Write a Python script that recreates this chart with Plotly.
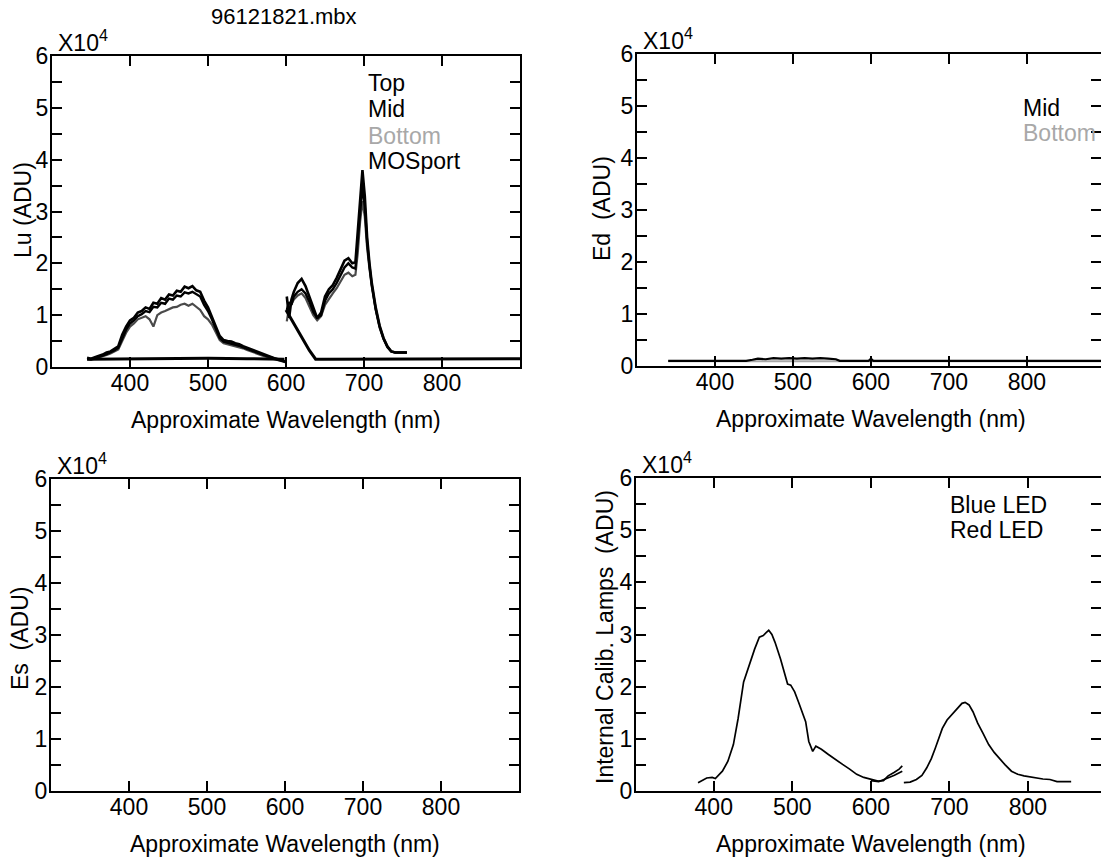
import plotly.graph_objects as go

# ---------------- data (values in units of 10^4 ADU) ----------------
WL_VIS = list(range(345, 601, 5))
lu_top_vis = [0.18, 0.16, 0.19, 0.21, 0.24, 0.28, 0.30, 0.35, 0.40, 0.62,
              0.78, 0.90, 0.95, 1.05, 1.08, 1.15, 1.12, 1.24, 1.22, 1.33,
              1.30, 1.40, 1.38, 1.47, 1.45, 1.55, 1.52, 1.56, 1.48, 1.45,
              1.28, 1.15, 0.98, 0.78, 0.60, 0.52, 0.50, 0.49, 0.46, 0.44,
              0.40, 0.37, 0.34, 0.31, 0.28, 0.25, 0.22, 0.20, 0.17, 0.15,
              0.12, 0.10]
lu_mid_vis = [0.16, 0.15, 0.17, 0.19, 0.22, 0.25, 0.28, 0.32, 0.37, 0.55,
              0.72, 0.84, 0.90, 0.98, 1.02, 1.08, 1.06, 1.16, 1.15, 1.24,
              1.22, 1.32, 1.30, 1.38, 1.36, 1.44, 1.42, 1.45, 1.40, 1.36,
              1.20, 1.08, 0.92, 0.72, 0.56, 0.49, 0.47, 0.46, 0.43, 0.41,
              0.38, 0.35, 0.32, 0.29, 0.26, 0.23, 0.21, 0.19, 0.16, 0.14,
              0.12, 0.10]
lu_bot_vis = [0.15, 0.14, 0.16, 0.18, 0.20, 0.23, 0.26, 0.30, 0.34, 0.50,
              0.66, 0.78, 0.84, 0.92, 0.95, 0.98, 0.92, 0.78, 1.00, 1.05,
              1.08, 1.12, 1.15, 1.16, 1.20, 1.22, 1.18, 1.22, 1.16, 1.10,
              0.98, 0.92, 0.82, 0.66, 0.52, 0.46, 0.44, 0.43, 0.41, 0.39,
              0.36, 0.33, 0.30, 0.27, 0.24, 0.22, 0.20, 0.17, 0.15, 0.13,
              0.11, 0.09]

WL_RED = [601, 604, 607, 610, 615, 620, 625, 630, 635, 640, 645, 650, 655, 660,
          665, 670, 675, 680, 685, 689, 692, 695, 698, 701, 704, 707, 710, 715,
          720, 725, 730, 735, 740, 745, 750, 755]
lu_top_red = [1.36, 0.95, 1.30, 1.45, 1.62, 1.70, 1.56, 1.36, 1.12, 0.94,
              1.05, 1.36, 1.50, 1.58, 1.72, 1.88, 2.05, 2.10, 2.00, 2.02,
              2.65, 3.30, 3.80, 3.30, 2.50, 2.00, 1.62, 1.15, 0.80, 0.56,
              0.40, 0.30, 0.28, 0.28, 0.28, 0.28]
lu_mid_red = [1.10, 1.25, 1.20, 1.36, 1.45, 1.50, 1.42, 1.26, 1.06, 0.95,
              1.00, 1.28, 1.42, 1.50, 1.62, 1.78, 1.92, 2.00, 1.92, 1.90,
              2.40, 3.00, 3.50, 3.10, 2.40, 1.95, 1.58, 1.12, 0.78, 0.55,
              0.39, 0.30, 0.28, 0.28, 0.28, 0.28]
lu_bot_red = [0.88, 1.15, 1.22, 1.30, 1.38, 1.42, 1.33, 1.18, 1.00, 0.90,
              0.98, 1.20, 1.32, 1.42, 1.52, 1.65, 1.78, 1.82, 1.75, 1.78,
              2.20, 2.80, 3.20, 2.90, 2.30, 1.90, 1.55, 1.10, 0.76, 0.54,
              0.38, 0.30, 0.28, 0.28, 0.28, 0.28]

WL_MOS = [345, 400, 450, 500, 550, 598, None, 600, 610, 620, 630, 638, 645,
          700, 750, 800, 850, 900]
lu_mos = [0.15, 0.16, 0.17, 0.17, 0.16, 0.15, None, 1.10, 0.85, 0.58, 0.32,
          0.15, 0.15, 0.15, 0.16, 0.16, 0.16, 0.16]

WL_ED = [340, 360, 380, 400, 420, 440, 448, 455, 465, 475, 485, 495, 505, 515,
         525, 535, 545, 555, 560, 580, 597, 600, 603, 620, 650, 700, 750, 800,
         850, 900]
ed_mid = [0.10, 0.10, 0.10, 0.10, 0.10, 0.10, 0.12, 0.14, 0.13, 0.15, 0.14,
          0.15, 0.14, 0.15, 0.14, 0.15, 0.14, 0.13, 0.10, 0.10, 0.10, 0.14,
          0.10, 0.10, 0.10, 0.10, 0.10, 0.10, 0.10, 0.10]
ed_bot = [0.09, 0.09, 0.09, 0.09, 0.09, 0.09, 0.09, 0.09, 0.09, 0.09, 0.09,
          0.09, 0.09, 0.09, 0.09, 0.09, 0.09, 0.09, 0.09, 0.09, 0.09, 0.09,
          0.09, 0.09, 0.09, 0.09, 0.09, 0.09, 0.09, 0.09]

BLUE_WL = [380, 391, 398, 402, 411, 418, 425, 431, 438, 445, 452, 458, 463, 467,
           470, 474, 478, 485, 490, 494, 498, 503, 508, 512, 517, 521, 526, 530,
           537, 546, 555, 564, 573, 582, 591, 600, 609, 616, 622, 630, 636, 640]
blue_led = [0.16, 0.25, 0.26, 0.24, 0.38, 0.57, 0.89, 1.39, 2.09, 2.41, 2.72,
            2.95, 2.98, 3.04, 3.08, 3.00, 2.85, 2.53, 2.25, 2.05, 2.03, 1.90,
            1.70, 1.52, 1.33, 0.95, 0.76, 0.86, 0.80, 0.70, 0.60, 0.51, 0.42,
            0.32, 0.26, 0.22, 0.19, 0.20, 0.29, 0.36, 0.42, 0.48]
RED_WL = [600, 610, 620, 630, 640, None, 642, 650, 658, 665, 671, 677, 682, 687,
          691, 697, 703, 708, 712, 716, 720, 725, 730, 736, 743, 750, 757, 763,
          771, 779, 787, 795, 803, 810, 819, 828, 837, 846, 855]
red_led = [0.20, 0.18, 0.24, 0.30, 0.38, None, 0.16, 0.17, 0.22, 0.30, 0.44,
           0.62, 0.82, 1.02, 1.20, 1.36, 1.46, 1.56, 1.62, 1.68, 1.70, 1.65,
           1.52, 1.30, 1.10, 0.89, 0.74, 0.63, 0.50, 0.38, 0.32, 0.29, 0.27,
           0.25, 0.23, 0.22, 0.18, 0.18, 0.18]

X_TICKS = [400, 500, 600, 700, 800]
Y_TICKS = [0, 1, 2, 3, 4, 5, 6]
Y_MINOR = [0.5, 1.5, 2.5, 3.5, 4.5, 5.5]

# ---------------- figure ----------------
W, H = 1101, 861
FONT = "Liberation Sans, Arial, sans-serif"
FS = 23
GRAY = "#a8a8a8"


def P(x, y):
    return x / W, 1 - y / H


panels = {
    "": dict(x0=52, x1=520, y0=56, y1=367, xr=[300, 900]),
    "2": dict(x0=637, x1=1101, y0=54, y1=366, xr=[300, 895]),
    "3": dict(x0=51, x1=519, y0=479, y1=791, xr=[300, 900]),
    "4": dict(x0=636, x1=1101, y0=478, y1=791, xr=[301, 893]),
}

fig = go.Figure()


def add(xs, ys, ax, color="black", width=2, name=None):
    fig.add_trace(go.Scatter(x=xs, y=ys, mode="lines", name=name,
                             line=dict(color=color, width=width),
                             xaxis="x" + ax, yaxis="y" + ax,
                             showlegend=False, hoverinfo="skip"))


# Lu panel
add(WL_VIS + [None] + WL_RED, lu_bot_vis + [None] + lu_bot_red, "", "#4a4a4a", 2.2, "Bottom")
add(WL_VIS + [None] + WL_RED, lu_mid_vis + [None] + lu_mid_red, "", "black", 2.4, "Mid")
add(WL_VIS + [None] + WL_RED, lu_top_vis + [None] + lu_top_red, "", "black", 2.6, "Top")
add(WL_MOS, lu_mos, "", "black", 3, "MOSport")
# Ed panel
add(WL_ED, ed_bot, "2", GRAY, 2, "Bottom")
add(WL_ED, ed_mid, "2", "black", 2.2, "Mid")
# Es panel (empty)
fig.add_trace(go.Scatter(x=[None], y=[None], xaxis="x3", yaxis="y3",
                         showlegend=False, hoverinfo="skip"))
# Internal calibration lamps
add(BLUE_WL, blue_led, "4", "black", 1.7, "Blue LED")
add(RED_WL, red_led, "4", "black", 1.7, "Red LED")

layout = dict(template="none", width=W, height=H, autosize=False,
              margin=dict(l=0, r=0, t=0, b=0, pad=0),
              paper_bgcolor="white", plot_bgcolor="white",
              font=dict(family=FONT, size=FS, color="black"),
              showlegend=False)

for k, p in panels.items():
    xd = [p["x0"] / W, min(1.0, p["x1"] / W)]
    yd = [1 - p["y1"] / H, 1 - p["y0"] / H]
    layout["xaxis" + k] = dict(domain=xd, range=p["xr"], anchor="y" + k,
                               tickmode="array", tickvals=X_TICKS,
                               ticks="inside", ticklen=10,
                               tickwidth=2, tickcolor="black", showline=True,
                               linewidth=2, linecolor="black", mirror="ticks",
                               showgrid=False, zeroline=False,
                               ticklabelstandoff=-6,
                               minor=dict(tickmode="array", tickvals=X_TICKS,
                                          ticks="inside", ticklen=10, tickwidth=2,
                                          tickcolor="black", showgrid=False),
                               tickfont=dict(size=FS, family=FONT, color="black"))
    layout["yaxis" + k] = dict(domain=yd, range=[0, 6], anchor="x" + k,
                               tickmode="array", tickvals=Y_TICKS,
                               ticktext=[str(v) for v in Y_TICKS],
                               ticks="inside", ticklen=10, tickwidth=2,
                               tickcolor="black", showline=True, linewidth=2,
                               linecolor="black", mirror="ticks",
                               showgrid=False, zeroline=False,
                               ticklabelstandoff=-3,
                               minor=dict(tickmode="array", tickvals=Y_MINOR,
                                          ticks="inside", ticklen=10, tickwidth=2,
                                          tickcolor="black", showgrid=False),
                               tickfont=dict(size=FS, family=FONT, color="black"))

fig.update_layout(**layout)

ann = []


def txt(text, x, y, xanchor="center", color="black", angle=0, size=FS):
    px_, py_ = P(x, y)
    ann.append(dict(text=text, x=px_, y=py_, xref="paper", yref="paper",
                    xanchor=xanchor, yanchor="middle", showarrow=False,
                    textangle=angle, font=dict(size=size, color=color, family=FONT)))


txt("96121821.mbx", 284, 17, size=22)
for k, p in panels.items():
    txt("X10<sup>4</sup>", p["x0"] + 4, p["y0"] - 15, xanchor="left")
    xc = (p["x0"] + (p["x1"] if p["x1"] < 1101 else 1105)) / 2
    txt("Approximate Wavelength (nm)", xc, p["y1"] + 53)

txt("Lu (ADU)", 23, 210, angle=-90)
txt("Ed  (ADU)", 602, 209, angle=-90)
txt("Es  (ADU)", 20, 638, angle=-90)
txt("Internal Calib. Lamps  (ADU)", 605, 637, angle=-90)

txt("Top", 366, 83, xanchor="left")
txt("Mid", 366, 109, xanchor="left")
txt("Bottom", 366, 136, xanchor="left", color=GRAY)
txt("MOSport", 366, 161, xanchor="left")

txt("Mid", 1021, 108, xanchor="left")
txt("Bottom", 1021, 133, xanchor="left", color=GRAY)

txt("Blue LED", 948, 505, xanchor="left")
txt("Red LED", 948, 530, xanchor="left")

fig.update_layout(annotations=ann)
fig.write_html("out.html",
               config={"displayModeBar": False, "staticPlot": True},
               post_script="document.body.style.margin='0';"
                           "document.body.style.overflow='hidden';")
